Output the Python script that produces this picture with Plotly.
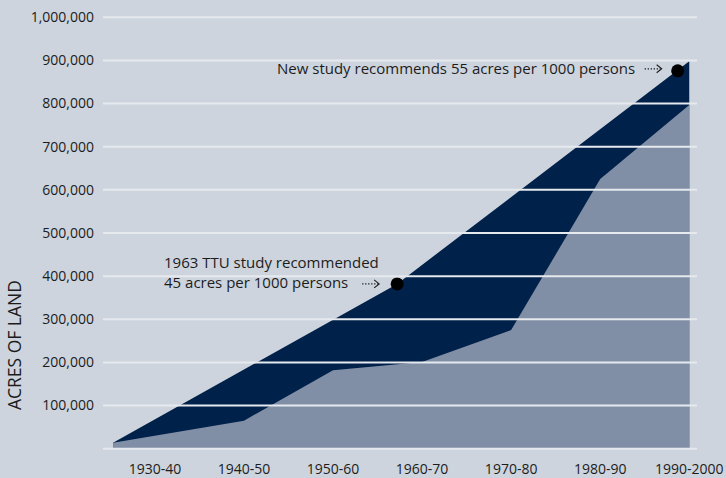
import plotly.graph_objects as go

# ---- data ----
decade_labels = ["1930-40", "1940-50", "1950-60", "1960-70", "1970-80", "1980-90", "1990-2000"]
label_pos = [0, 1, 2, 3, 4, 5, 6]

# actual acres (lower, lighter area)
actual_x = [-0.47, 1, 2, 3, 4, 5, 6]
actual_acres = [14000, 65000, 182000, 201000, 275000, 625000, 797000]

# recommended acres (upper, dark area)
recommended_x = [-0.47, 2.72, 6]
recommended_acres = [14000, 382000, 898000]

# study markers
study_x = [2.72, 5.87]
study_acres = [382000, 876000]

y_ticks = [100000, 200000, 300000, 400000, 500000, 600000, 700000, 800000, 900000, 1000000]
grid_levels = [0] + y_ticks

BG = "#cdd4dd"
NAVY = "#00214a"
GRAY = "#808fa6"
GRID = "#e6e9ee"
TEXT = "#1c1c1c"
FONT = "Open Sans"

fig = go.Figure()
fig.add_trace(go.Scatter(x=recommended_x, y=recommended_acres, mode="lines",
                         line=dict(width=0, color=NAVY), fill="tozeroy",
                         fillcolor=NAVY, hoverinfo="skip", showlegend=False))
fig.add_trace(go.Scatter(x=actual_x, y=actual_acres, mode="lines",
                         line=dict(width=0, color=GRAY), fill="tozeroy",
                         fillcolor=GRAY, hoverinfo="skip", showlegend=False))

shapes = []
for g in grid_levels:
    shapes.append(dict(type="line", xref="paper", yref="y", x0=0, x1=1, y0=g, y1=g,
                       line=dict(color=GRID, width=2), layer="above"))

# dotted pointer arrows next to each study marker (pixel offsets from the marker)
arrow_offsets = [(-35, -18, 0), (-33, -16, 2)]
for sx, sy, (a0, a1, dy) in zip(study_x, study_acres, arrow_offsets):
    shapes.append(dict(type="line", xref="x", yref="y", xsizemode="pixel", ysizemode="pixel",
                       xanchor=sx, yanchor=sy, x0=a0, x1=a1 - 1, y0=dy, y1=dy,
                       line=dict(color=TEXT, width=1.2, dash="1.3px,1.7px"), layer="above"))
    shapes.append(dict(type="path", xref="x", yref="y", xsizemode="pixel", ysizemode="pixel",
                       xanchor=sx, yanchor=sy,
                       path=f"M {a1-5},{dy+4} L {a1},{dy} L {a1-5},{dy-4}",
                       line=dict(color=TEXT, width=1.1), layer="above"))

fig.add_trace(go.Scatter(x=study_x, y=study_acres, mode="markers",
                         marker=dict(size=13, color="black"),
                         hoverinfo="skip", showlegend=False))

annotations = [
    dict(x=study_x[0], y=study_acres[0], xref="x", yref="y",
         text="1963 TTU study recommended<br>45 acres per 1000 persons",
         showarrow=False, xanchor="right", yanchor="bottom", align="left",
         xshift=-16, yshift=-10, font=dict(family=FONT, size=15, color=TEXT)),
    dict(x=study_x[1], y=study_acres[1], xref="x", yref="y",
         text="New study recommends 55 acres per 1000 persons",
         showarrow=False, xanchor="right", yanchor="middle",
         xshift=-41, yshift=3, font=dict(family=FONT, size=15, color=TEXT)),
    dict(x=-0.15, y=0.245, xref="paper", yref="paper", text="ACRES OF LAND",
         textangle=-90, showarrow=False, xanchor="center", yanchor="middle",
         font=dict(family=FONT, size=17.5, color=TEXT)),
]

fig.update_layout(
    width=726, height=478,
    margin=dict(l=103, r=29, t=13, b=25, autoexpand=False),
    paper_bgcolor=BG, plot_bgcolor=BG,
    shapes=shapes, annotations=annotations,
    font=dict(family=FONT, size=14, color=TEXT),
    hovermode=False,
    xaxis=dict(range=[-0.583, 6.087], tickmode="array", tickvals=label_pos,
               ticktext=decade_labels, showgrid=False, zeroline=False,
               showline=False, ticks="", ticklabelstandoff=6, automargin=False,
               tickfont=dict(family=FONT, size=14, color=TEXT), fixedrange=True),
    yaxis=dict(range=[-10000, 1010000], tickmode="array", tickvals=y_ticks,
               tickformat=",", showgrid=False, zeroline=False, showline=False,
               ticks="", ticklabelstandoff=8, automargin=False,
               tickfont=dict(family=FONT, size=14, color=TEXT), fixedrange=True),
)

fig.write_html("out.html",
               config={"displayModeBar": False, "staticPlot": True},
               post_script="document.body.style.margin='0px';"
                           "document.body.style.background='" + BG + "';")
